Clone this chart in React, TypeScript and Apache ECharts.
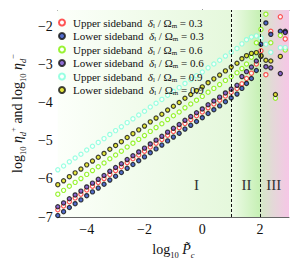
import React, { useEffect, useRef } from "react";
import * as echarts from "echarts";

const xs = [
  -5, -4.8, -4.6, -4.4, -4.2, -4, -3.8, -3.6, -3.4, -3.2, -3, -2.8, -2.6, -2.4, -2.2, -2,
  -1.8, -1.6, -1.4, -1.2, -1, -0.8, -0.6, -0.4, -0.2, 0, 0.2, 0.4, 0.6, 0.8, 1, 1.2,
  1.37, 1.53, 1.7, 1.87, 2.03, 2.2, 2.37, 2.53, 2.7, 2.87,
];

const upper03 = [
  -6.81, -6.71, -6.6, -6.5, -6.4, -6.29, -6.19, -6.09, -5.99, -5.88, -5.78, -5.68, -5.57, -5.47, -5.37, -5.27,
  -5.16, -5.06, -4.96, -4.85, -4.75, -4.65, -4.54, -4.44, -4.34, -4.24, -4.13, -4.03, -3.93, -3.82, -3.72, -3.62,
  -3.5, -3.36, -3.22, -2.98, -2.63, -3.26, -2.12, null, -1.74, -2.32,
];
const lower03 = [
  -6.96, -6.86, -6.75, -6.65, -6.55, -6.44, -6.34, -6.24, -6.14, -6.03, -5.93, -5.83, -5.72, -5.62, -5.52, -5.42,
  -5.31, -5.21, -5.11, -5.0, -4.9, -4.8, -4.69, -4.59, -4.49, -4.39, -4.28, -4.18, -4.08, -3.97, -3.87, -3.77,
  -3.62, -3.49, -3.36, -3.15, -2.46, -1.9, -2.2, null, -2.12, -2.12,
];
const upper06 = [
  -6.4, -6.3, -6.19, -6.09, -5.99, -5.88, -5.78, -5.68, -5.58, -5.47, -5.37, -5.27, -5.16, -5.06, -4.96, -4.86,
  -4.75, -4.65, -4.55, -4.44, -4.34, -4.24, -4.13, -4.03, -3.93, -3.83, -3.72, -3.62, -3.52, -3.41, -3.31, -3.21,
  -3.1, -2.98, -2.8, -2.42, -2.07, -1.67, -2.42, -3.88, -2.23, -2.61,
];
const lower06 = [
  -6.73, -6.63, -6.52, -6.42, -6.32, -6.21, -6.11, -6.01, -5.91, -5.8, -5.7, -5.6, -5.49, -5.39, -5.29, -5.19,
  -5.08, -4.98, -4.88, -4.77, -4.67, -4.57, -4.46, -4.36, -4.26, -4.16, -4.05, -3.95, -3.85, -3.74, -3.64, -3.54,
  -3.31, -3.18, -3.06, -2.9, -2.78, -3.05, -3.08, null, -3.23, -2.15,
];
const upper09 = [
  -5.76, -5.66, -5.55, -5.45, -5.35, -5.24, -5.14, -5.04, -4.94, -4.83, -4.73, -4.63, -4.52, -4.42, -4.32, -4.22,
  -4.11, -4.01, -3.91, -3.8, -3.7, -3.6, -3.49, -3.39, -3.29, -3.19, -3.08, -2.98, -2.88, -2.77, -2.67, -2.57,
  -2.45, -2.34, -2.27, -2.24, -2.3, -2.46, -2.67, null, -2.55, -2.55,
];
const lower09 = [
  -6.15, -6.05, -5.94, -5.84, -5.74, -5.63, -5.53, -5.43, -5.33, -5.22, -5.12, -5.02, -4.91, -4.81, -4.71, -4.61,
  -4.5, -4.4, -4.3, -4.19, -4.09, -3.99, -3.88, -3.78, -3.68, -3.58, -3.47, -3.37, -3.27, -3.16, -3.06, -2.96,
  -2.84, -2.76, -2.7, -2.68, -2.76, -2.88, -2.9, -3.78, -2.78, null,
];

const xTicks = [-4, -2, 0, 2];
const yTicks = [-7, -6, -5, -4, -3, -2];
const regionBounds = [-5, 1, 2, 3];
const regionNames = ["I", "II", "III"];
const regionLabelX = [-0.2, 1.53, 2.47];
const regionLabelY = -6.15;

const seriesDefs = [
  { name: "Upper 0.3", ys: upper03, hollow: true, color: "#ff2a2a" },
  { name: "Lower 0.3", ys: lower03, hollow: false, color: "#2848c0" },
  { name: "Upper 0.6", ys: upper06, hollow: true, color: "#7ff000" },
  { name: "Lower 0.6", ys: lower06, hollow: false, color: "#7048c8" },
  { name: "Upper 0.9", ys: upper09, hollow: true, color: "#80ffdc" },
  { name: "Lower 0.9", ys: lower09, hollow: false, color: "#e0e010" },
];

const SERIF = "Liberation Serif";
const minus = (v: number) => (v < 0 ? "\u2212" + Math.abs(v) : String(v));

export default function App() {
  const ref = useRef<HTMLDivElement>(null);
  useEffect(() => {
    const chart = echarts.init(ref.current!, null, { renderer: "svg" });
    const grads = [
      new echarts.graphic.LinearGradient(0, 0, 1, 0, [
        { offset: 0, color: "#fcfffa" },
        { offset: 1, color: "#e5f8dc" },
      ]),
      new echarts.graphic.LinearGradient(0, 0, 1, 0, [
        { offset: 0, color: "#eefbe8" },
        { offset: 1, color: "#c6f0b4" },
      ]),
      new echarts.graphic.LinearGradient(0, 0, 1, 0, [
        { offset: 0, color: "#d4e9c6" },
        { offset: 0.45, color: "#e4d8d8" },
        { offset: 1, color: "#f6c6e6" },
      ]),
    ];
    const scatter = seriesDefs.map((d) => ({
      name: d.name,
      type: "scatter",
      symbol: "circle",
      symbolSize: 4.2,
      z: 3,
      itemStyle: d.hollow
        ? { color: "#ffffff", borderColor: d.color, borderWidth: 1.2 }
        : { color: d.color, borderColor: "#111111", borderWidth: 1.2 },
      data: xs
        .map((x, i) => [x, d.ys[i]])
        .filter((p) => p[1] !== null && p[1] !== undefined),
    }));
    const bg = {
      name: "regions",
      type: "line",
      data: [],
      z: 1,
      silent: true,
      markArea: {
        silent: true,
        data: regionNames.map((_, i) => [
          { xAxis: regionBounds[i], itemStyle: { color: grads[i] } },
          { xAxis: regionBounds[i + 1] },
        ]),
      },
      markLine: {
        silent: true,
        symbol: "none",
        label: { show: false },
        lineStyle: { color: "#111", type: [3, 2], width: 1 },
        data: [{ xAxis: regionBounds[1] }, { xAxis: regionBounds[2] }],
      },
      markPoint: {
        silent: true,
        symbol: "rect",
        symbolSize: 1,
        itemStyle: { color: "rgba(0,0,0,0)" },
        label: {
          show: true,
          position: "inside",
          formatter: "{b}",
          color: "#333",
          fontFamily: SERIF,
          fontSize: 15,
        },
        data: regionNames.map((n, i) => ({ name: n, coord: [regionLabelX[i], regionLabelY] })),
      },
    };
    const legendRich = {
      t: { fontFamily: SERIF, fontSize: 11, color: "#111", lineHeight: 13 },
      g: { fontFamily: SERIF, fontSize: 11, fontStyle: "italic", color: "#111", lineHeight: 13 },
      o: { fontFamily: SERIF, fontSize: 11, color: "#111", lineHeight: 13 },
      s: { fontFamily: SERIF, fontSize: 7, color: "#111", verticalAlign: "bottom", lineHeight: 9 },
    };
    const nameRich = {
      t: { fontFamily: SERIF, fontSize: 14, color: "#111", lineHeight: 19 },
      i: { fontFamily: SERIF, fontSize: 14, fontStyle: "italic", color: "#111", lineHeight: 19 },
      s: { fontFamily: SERIF, fontSize: 8.5, color: "#111", verticalAlign: "bottom", lineHeight: 10 },
      si: { fontFamily: SERIF, fontSize: 8.5, fontStyle: "italic", color: "#111", verticalAlign: "bottom", lineHeight: 10 },
      p: { fontFamily: SERIF, fontSize: 8.5, color: "#111", verticalAlign: "top", lineHeight: 11 },
    };
    const axisCommon = {
      axisLine: { show: true, lineStyle: { color: "#666", width: 1 } },
      splitLine: { show: false },
    };
    chart.setOption({
      animation: false,
      textStyle: { fontFamily: SERIF },
      grid: { left: 49, right: 10, top: 10, bottom: 43, show: false },
      legend: {
        orient: "vertical",
        left: 53,
        top: 12,
        itemWidth: 6,
        itemHeight: 6,
        itemGap: 1.5,
        icon: "circle",
        data: seriesDefs.map((d) => d.name),
        formatter: (name: string) => {
          const [kind, val] = name.split(" ");
          return `{t|${kind} sideband}  {g|δ}{s|l}{o| / Ω}{s|m}{t| = ${val}}`;
        },
        textStyle: { fontFamily: SERIF, fontSize: 11, rich: legendRich, padding: [0, 0, 0, 3] },
      },
      xAxis: [
        {
          type: "value",
          min: -5,
          max: 3,
          position: "bottom",
          ...axisCommon,
          axisTick: { show: true, inside: true, length: 4, customValues: xTicks, lineStyle: { color: "#666" } },
          axisLabel: {
            customValues: xTicks,
            formatter: minus,
            fontFamily: SERIF,
            fontSize: 14,
            color: "#111",
            margin: 5,
          },
          name: "{t|log}{s|10}{t| }{i|P̃}{si|c}",
          nameLocation: "middle",
          nameGap: 23,
          nameTextStyle: { fontFamily: SERIF, rich: nameRich },
        },
        {
          type: "value",
          min: -5,
          max: 3,
          position: "top",
          ...axisCommon,
          axisTick: { show: true, inside: true, length: 4, customValues: xTicks, lineStyle: { color: "#666" } },
          axisLabel: { show: false },
        },
      ],
      yAxis: [
        {
          type: "value",
          min: -7,
          max: -1.56,
          position: "left",
          ...axisCommon,
          axisTick: { show: true, inside: true, length: 4, customValues: yTicks, lineStyle: { color: "#666" } },
          axisLabel: {
            customValues: yTicks,
            formatter: minus,
            fontFamily: SERIF,
            fontSize: 14,
            color: "#111",
            margin: 5,
          },
          name: "{t|log}{s|10}{t| }{i|η}{si|d}{p|+}{t| and log}{s|10}{t| }{i|η}{si|d}{p|−}",
          nameLocation: "middle",
          nameGap: 27,
          nameRotate: 90,
          nameTextStyle: { fontFamily: SERIF, rich: nameRich },
        },
        {
          type: "value",
          min: -7,
          max: -1.56,
          position: "right",
          ...axisCommon,
          axisTick: { show: true, inside: true, length: 4, customValues: yTicks, lineStyle: { color: "#666" } },
          axisLabel: { show: false },
        },
      ],
      series: [bg, ...scatter],
    });
    return () => chart.dispose();
  }, []);
  return (
    <div
      ref={ref}
      style={{ position: "fixed", left: 0, top: 0, width: 299, height: 264, background: "#fff" }}
    />
  );
}
